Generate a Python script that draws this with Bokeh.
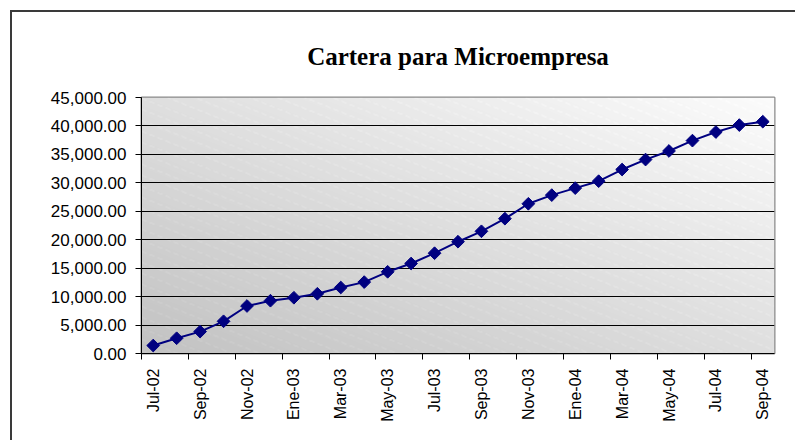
import numpy as np
from math import pi
from bokeh.plotting import figure
from bokeh.models import Range1d, FixedTicker, NumeralTickFormatter
from bokeh.embed import file_html
from bokeh.resources import INLINE

# ---- data ----
months = ["Jul-02", "Ago-02", "Sep-02", "Oct-02", "Nov-02", "Dic-02",
          "Ene-03", "Feb-03", "Mar-03", "Abr-03", "May-03", "Jun-03",
          "Jul-03", "Ago-03", "Sep-03", "Oct-03", "Nov-03", "Dic-03",
          "Ene-04", "Feb-04", "Mar-04", "Abr-04", "May-04", "Jun-04",
          "Jul-04", "Ago-04", "Sep-04"]
cartera = [1400, 2680, 3850, 5660, 8350, 9280, 9800, 10500, 11600, 12550,
           14360, 15820, 17630, 19650, 21480, 23700, 26320, 27840, 29070,
           30290, 32340, 34090, 35600, 37420, 38930, 40150, 40750]
y_ticks = [0, 5000, 10000, 15000, 20000, 25000, 30000, 35000, 40000, 45000]
title_text = "Cartera para Microempresa"

n = len(months)
xs = list(range(n))

p = figure(width=785, height=430, output_backend="svg", toolbar_location=None,
           x_range=Range1d(-0.5, n - 0.5), y_range=Range1d(y_ticks[0], y_ticks[-1]),
           min_border_left=129, min_border_right=23, min_border_top=84,
           min_border_bottom=89, title=title_text,
           styles={"border-left": "2px solid #3a3a3a", "border-top": "2px solid #3a3a3a",
                   "margin-left": "10px", "margin-top": "10px"})

p.title.align = "center"
p.title.text_font = "Liberation Serif"
p.title.text_font_style = "bold"
p.title.text_font_size = "25px"
p.title.text_color = "black"
p.title.standoff = 56

p.background_fill_color = "#dcdcdc"
p.border_fill_color = "white"
p.outline_line_color = "#8a8a8a"
p.outline_line_width = 2

# gradient background with faint diagonal stripes (styling only)
fw, fh = 633, 257
jj, ii = np.meshgrid(np.arange(fw), np.arange(fh))  # ii: row from bottom
t = (jj / fw + ii / fh) / 2.0
base = 194 + (252 - 194) * t
iscr = (fh - 1 - ii)
stripe = (((iscr - 0.40 * jj) % 11) < 1.0) & ((jj % 8) < 5)
col = np.clip(base + stripe * 9, 0, 255).astype(np.uint32)
img = (255 << 24) | (col << 16) | (col << 8) | col
p.image_rgba(image=[img.astype(np.uint32)], x=-0.5, y=y_ticks[0], dw=n, dh=y_ticks[-1] - y_ticks[0],
             level="image")

# grid
p.xgrid.visible = False
p.ygrid.ticker = FixedTicker(ticks=y_ticks)
p.ygrid.grid_line_color = "black"
p.ygrid.grid_line_width = 1

# y axis
p.yaxis.ticker = FixedTicker(ticks=y_ticks)
p.yaxis.formatter = NumeralTickFormatter(format="0,0.00")
p.yaxis.major_label_text_font = "Liberation Sans"
p.yaxis.major_label_text_font_size = "17px"
p.yaxis.major_label_text_color = "black"
p.yaxis.major_tick_out = 6
p.yaxis.major_tick_in = 0
p.yaxis.minor_tick_out = 0
p.yaxis.minor_tick_in = 0
p.yaxis.major_label_standoff = 9
p.yaxis.axis_line_color = "black"
p.yaxis.major_tick_line_color = "black"

# x axis: labels every other month, ticks between categories
lab_ticks = xs[::2]
sep_ticks = [k - 0.5 for k in range(0, n + 1, 2)]
p.xaxis.ticker = FixedTicker(ticks=lab_ticks, minor_ticks=sep_ticks)
p.xaxis.major_label_overrides = {k: months[k] for k in lab_ticks}
p.xaxis.major_label_orientation = pi / 2
p.xaxis.major_label_text_font = "Liberation Sans"
p.xaxis.major_label_text_font_size = "16px"
p.xaxis.major_label_text_color = "black"
p.xaxis.major_tick_out = 0
p.xaxis.major_tick_in = 0
p.xaxis.minor_tick_out = 6
p.xaxis.minor_tick_in = 0
p.xaxis.minor_tick_line_color = "black"
p.xaxis.major_label_standoff = 9
p.xaxis.axis_line_color = "black"

# series
p.line(xs, cartera, line_color="#000080", line_width=2)
p.scatter(xs, cartera, marker="square", angle=pi / 4, size=9,
          fill_color="#000080", line_color="#000080")

open("out.html", "w").write(file_html(p, INLINE))
